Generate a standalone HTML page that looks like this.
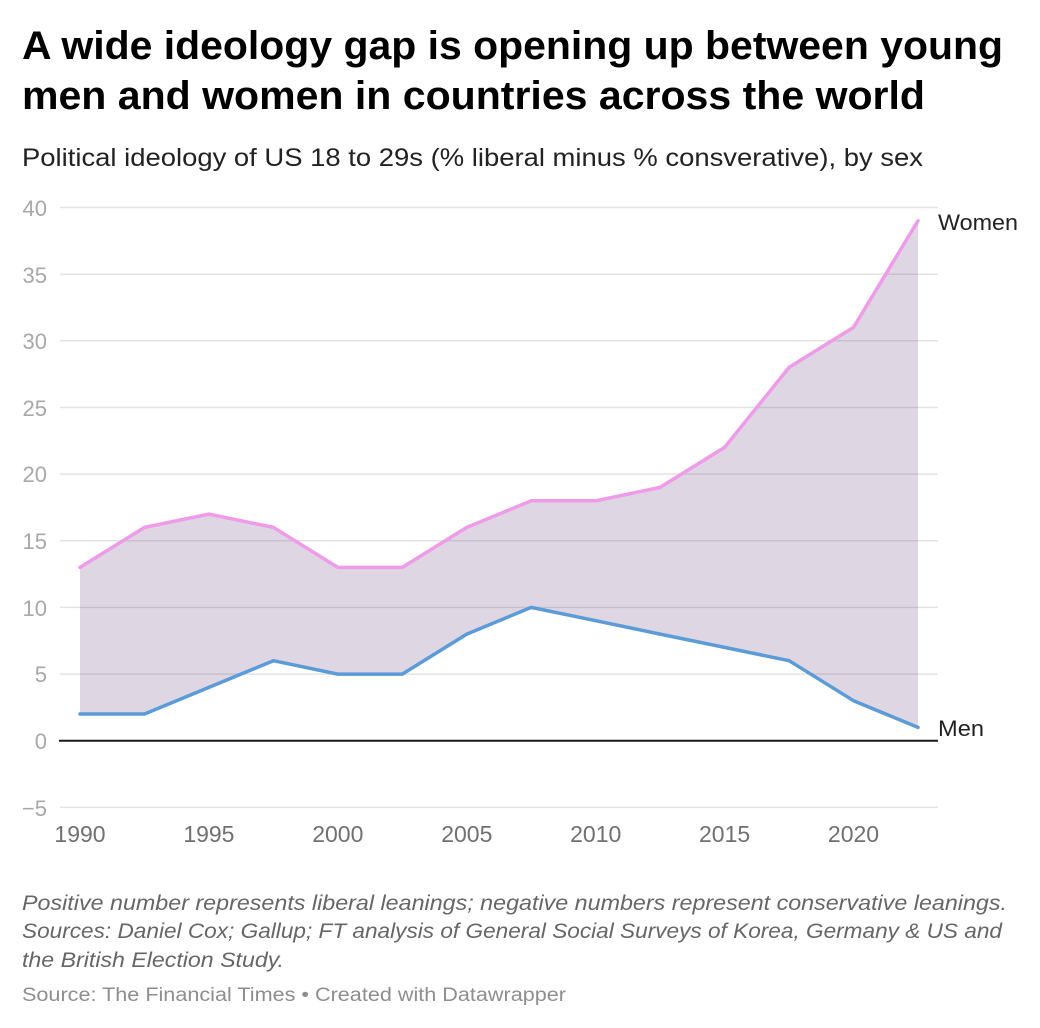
<!DOCTYPE html>
<html>
<head>
<meta charset="utf-8">
<style>
  html, body { margin: 0; padding: 0; background: #fff; }
  body { width: 1040px; height: 1028px; overflow: hidden; }
  svg { display: block; }
  text { font-family: "Liberation Sans", Arial, sans-serif; }
</style>
</head>
<body>
<svg width="1040" height="1028" viewBox="0 0 1040 1028" xmlns="http://www.w3.org/2000/svg">
  <!-- Title -->
  <text x="22" y="59" font-size="40" font-weight="bold" fill="#000" textLength="981" lengthAdjust="spacingAndGlyphs">A wide ideology gap is opening up between young</text>
  <text x="22" y="109" font-size="40" font-weight="bold" fill="#000" textLength="903" lengthAdjust="spacingAndGlyphs">men and women in countries across the world</text>
  <!-- Subtitle -->
  <text x="22" y="166" font-size="25" fill="#222" textLength="901" lengthAdjust="spacingAndGlyphs">Political ideology of US 18 to 29s (% liberal minus % consverative), by sex</text>

  <!-- Grid lines -->
  <g stroke="#e3e3e3" stroke-width="1.5">
    <line x1="60" y1="207.5" x2="938" y2="207.5"/>
    <line x1="60" y1="274.2" x2="938" y2="274.2"/>
    <line x1="60" y1="340.8" x2="938" y2="340.8"/>
    <line x1="60" y1="407.5" x2="938" y2="407.5"/>
    <line x1="60" y1="474.1" x2="938" y2="474.1"/>
    <line x1="60" y1="540.8" x2="938" y2="540.8"/>
    <line x1="60" y1="607.4" x2="938" y2="607.4"/>
    <line x1="60" y1="674.1" x2="938" y2="674.1"/>
    <line x1="60" y1="807.4" x2="938" y2="807.4"/>
  </g>

  <!-- Y labels -->
  <g font-size="22" fill="#a8a8a8" text-anchor="end">
    <text x="47" y="216">40</text>
    <text x="47" y="283">35</text>
    <text x="47" y="349">30</text>
    <text x="47" y="416">25</text>
    <text x="47" y="482">20</text>
    <text x="47" y="549">15</text>
    <text x="47" y="616">10</text>
    <text x="47" y="682">5</text>
    <text x="47" y="749">0</text>
    <text x="47" y="816">−5</text>
  </g>

  <!-- Area between lines -->
  <polygon fill="rgb(120,82,138)" fill-opacity="0.24" points="
    80,567.4 144.5,527.4 208.9,514.1 273.4,527.4 337.8,567.4 402.3,567.4 466.8,527.4 531.2,500.8 595.7,500.8 660.1,487.4 724.6,447.4 789.1,367.4 853.5,327.4 918,220.8
    918,727.4 853.5,700.7 789.1,660.7 724.6,647.4 660.1,634.1 595.7,620.7 531.2,607.4 466.8,634.1 402.3,674.1 337.8,674.1 273.4,660.7 208.9,687.4 144.5,714.0 80,714.0"/>

  <!-- Zero line -->
  <line x1="59" y1="740.7" x2="938" y2="740.7" stroke="#1a1a1a" stroke-width="2"/>

  <!-- Women line -->
  <polyline fill="none" stroke="#f09be9" stroke-width="3.5" stroke-linejoin="round" stroke-linecap="round" points="80,567.4 144.5,527.4 208.9,514.1 273.4,527.4 337.8,567.4 402.3,567.4 466.8,527.4 531.2,500.8 595.7,500.8 660.1,487.4 724.6,447.4 789.1,367.4 853.5,327.4 918,220.8"/>

  <!-- Men line -->
  <polyline fill="none" stroke="#5b9bd8" stroke-width="3.5" stroke-linejoin="round" stroke-linecap="round" points="80,714.0 144.5,714.0 208.9,687.4 273.4,660.7 337.8,674.1 402.3,674.1 466.8,634.1 531.2,607.4 595.7,620.7 660.1,634.1 724.6,647.4 789.1,660.7 853.5,700.7 918,727.4"/>

  <!-- Series labels -->
  <text x="938" y="230" font-size="22" fill="#222" textLength="80" lengthAdjust="spacingAndGlyphs">Women</text>
  <text x="938" y="736" font-size="22" fill="#222" textLength="46" lengthAdjust="spacingAndGlyphs">Men</text>

  <!-- X labels -->
  <g font-size="23" fill="#707070" text-anchor="middle">
    <text x="80" y="842">1990</text>
    <text x="208.9" y="842">1995</text>
    <text x="337.8" y="842">2000</text>
    <text x="466.8" y="842">2005</text>
    <text x="595.7" y="842">2010</text>
    <text x="724.6" y="842">2015</text>
    <text x="853.5" y="842">2020</text>
  </g>

  <!-- Notes -->
  <g font-size="21" font-style="italic" fill="#666">
    <text x="22" y="910" textLength="985" lengthAdjust="spacingAndGlyphs">Positive number represents liberal leanings; negative numbers represent conservative leanings.</text>
    <text x="22" y="938" textLength="980" lengthAdjust="spacingAndGlyphs">Sources: Daniel Cox; Gallup; FT analysis of General Social Surveys of Korea, Germany &amp; US and</text>
    <text x="22" y="967" textLength="262" lengthAdjust="spacingAndGlyphs">the British Election Study.</text>
  </g>
  <text x="22" y="1001" font-size="19" fill="#8e8e8e" textLength="544" lengthAdjust="spacingAndGlyphs">Source: The Financial Times • Created with Datawrapper</text>
</svg>
</body>
</html>
